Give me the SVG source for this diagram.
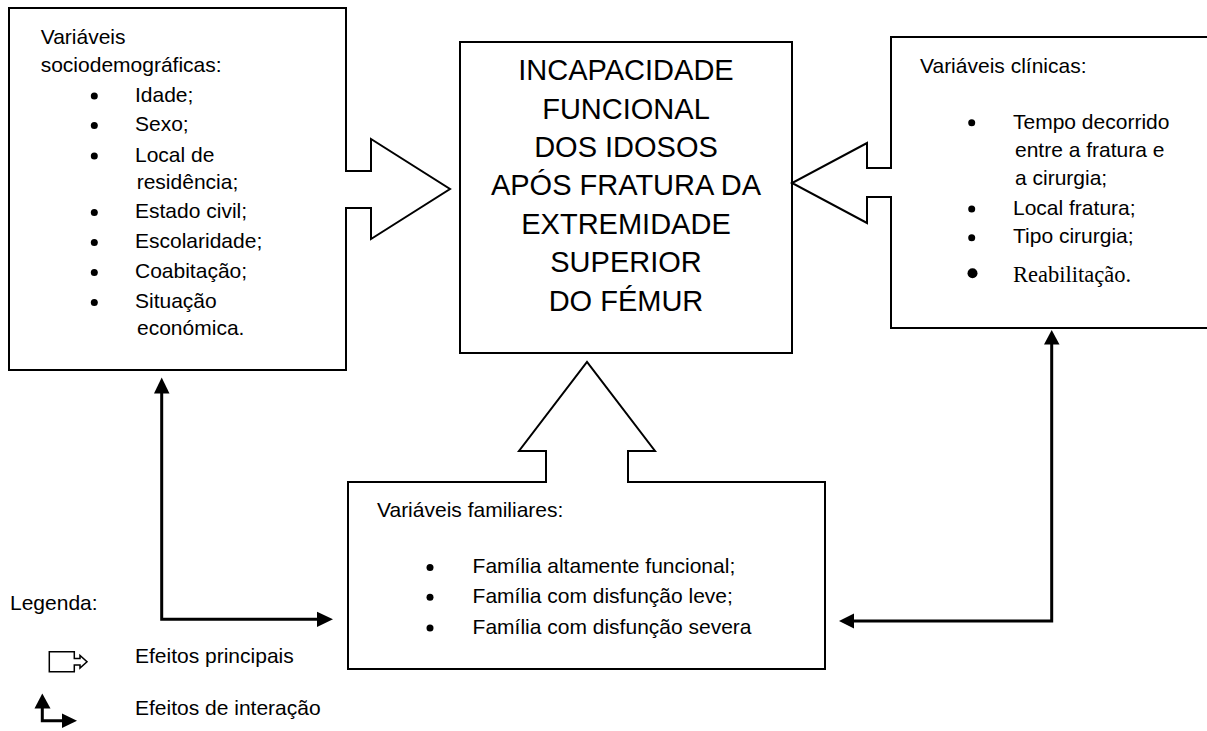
<svg xmlns="http://www.w3.org/2000/svg" width="1207" height="731" viewBox="0 0 1207 731">
<style>
  .box{fill:#fff;stroke:#000;stroke-width:2;stroke-linejoin:miter}
  .t{font-family:"Liberation Sans",Arial,sans-serif;font-size:21px;fill:#000}
  .big{font-family:"Liberation Sans",Arial,sans-serif;font-size:29px;fill:#000;text-anchor:middle}
  .serif{font-family:"Liberation Serif","Times New Roman",serif;font-size:22.5px;fill:#000}
  .line{fill:none;stroke:#000;stroke-width:3}
  .head{fill:#000;stroke:none}
  .dot{fill:#000}
</style>
<rect width="1207" height="731" fill="#fff"/>

<g id="sociodemograficas">
  <path class="box" d="M9,8 H346 V171 H371 V139 L450,189 L371,239 V208 H346 V370 H9 Z"/>
  <text class="t" x="40.7" y="44.3">Variáveis</text>
  <text class="t" x="40.7" y="71.7">sociodemográficas:</text>
  <circle class="dot" cx="94.3" cy="96" r="3.5"/><text class="t" x="135" y="101.7">Idade;</text>
  <circle class="dot" cx="94.3" cy="125.5" r="3.5"/><text class="t" x="135" y="131">Sexo;</text>
  <circle class="dot" cx="94.3" cy="156" r="3.5"/><text class="t" x="135" y="161.7">Local de</text>
  <text class="t" x="136.7" y="188.5">residência;</text>
  <circle class="dot" cx="94.3" cy="212.5" r="3.5"/><text class="t" x="135" y="218">Estado civil;</text>
  <circle class="dot" cx="94.3" cy="242.5" r="3.5"/><text class="t" x="135" y="248">Escolaridade;</text>
  <circle class="dot" cx="94.3" cy="272.5" r="3.5"/><text class="t" x="135" y="278">Coabitação;</text>
  <circle class="dot" cx="94.3" cy="302.5" r="3.5"/><text class="t" x="135" y="308">Situação</text>
  <text class="t" x="137" y="335">económica.</text>
</g>

<g id="incapacidade">
  <rect class="box" x="460" y="42" width="332" height="311"/>
  <text class="big" x="626" y="80">INCAPACIDADE</text>
  <text class="big" x="626" y="118.5">FUNCIONAL</text>
  <text class="big" x="626" y="157">DOS IDOSOS</text>
  <text class="big" x="626" y="195">APÓS FRATURA DA</text>
  <text class="big" x="626" y="233.5">EXTREMIDADE</text>
  <text class="big" x="626" y="272">SUPERIOR</text>
  <text class="big" x="626" y="310.5">DO FÉMUR</text>
</g>

<g id="clinicas">
  <path class="box" d="M1212,37 H891 V168 H867 V143 L792,183 L867,223 V197 H891 V328 H1212"/>
  <text class="t" x="920" y="72.7">Variáveis clínicas:</text>
  <circle class="dot" cx="971.7" cy="122.7" r="3.5"/><text class="t" x="1013" y="129.3">Tempo decorrido</text>
  <text class="t" x="1015" y="156.7">entre a fratura e</text>
  <text class="t" x="1015" y="185">a cirurgia;</text>
  <circle class="dot" cx="971.7" cy="209" r="3.5"/><text class="t" x="1013" y="215">Local fratura;</text>
  <circle class="dot" cx="971.7" cy="237.7" r="3.5"/><text class="t" x="1013" y="243.3">Tipo cirurgia;</text>
  <circle class="dot" cx="972.5" cy="273.3" r="5"/><text class="serif" x="1013" y="281.7">Reabilitação.</text>
</g>

<g id="familiares">
  <path class="box" d="M348,482 H546 V451 H519 L587,362 L655,451 H628 V482 H825 V669 H348 Z"/>
  <text class="t" x="377" y="516.7">Variáveis familiares:</text>
  <circle class="dot" cx="430" cy="567.5" r="3.5"/><text class="t" x="472.6" y="573.3">Família altamente funcional;</text>
  <circle class="dot" cx="430" cy="597.3" r="3.5"/><text class="t" x="472.6" y="603.3">Família com disfunção leve;</text>
  <circle class="dot" cx="430" cy="628" r="3.5"/><text class="t" x="472.6" y="634">Família com disfunção severa</text>
</g>

<g id="connectors">
  <path class="line" d="M161.7,392 V619.3 H318"/>
  <polygon class="head" points="161.7,377.5 154,393.5 169.5,393.5"/>
  <polygon class="head" points="333,619.3 317,611.7 317,627"/>
  <path class="line" d="M1051.7,343 V621 H853"/>
  <polygon class="head" points="1051.7,330 1044,344.5 1059.5,344.5"/>
  <polygon class="head" points="839,621 854,613.5 854,628.5"/>
</g>

<g id="legenda">
  <text class="t" x="10" y="610">Legenda:</text>
  <path fill="#fff" stroke="#000" stroke-width="1.5" d="M49.3,651.7 H74.3 V658.5 H80 V655.5 L87,661.7 L80,668 V665 H74.3 V671.7 H49.3 Z"/>
  <text class="t" x="135" y="662.7">Efeitos principais</text>
  <path class="line" d="M42.3,707 V720.7 H62"/>
  <polygon class="head" points="42.3,693.5 34.5,708.5 50.5,708.5"/>
  <polygon class="head" points="77,720.7 62,713.5 62,728"/>
  <text class="t" x="135" y="715">Efeitos de interação</text>
</g>
</svg>
